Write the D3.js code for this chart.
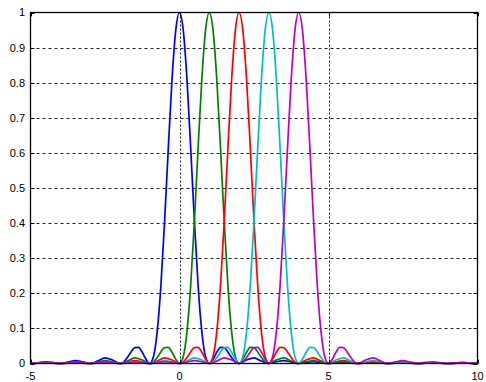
<!DOCTYPE html>
<html>
<head>
<meta charset="utf-8">
<script src="https://cdn.jsdelivr.net/npm/d3@7"></script>
<style>
  body { margin: 0; background: #fff; }
  svg { display: block; }
  .tick-label { font-family: "Liberation Sans", Arial, sans-serif; font-size: 11px; fill: #000; }
</style>
</head>
<body>
<div id="chart"></div>
<script>
// peak positions of the five lobes, in draw order
const centers = [0, 1, 2, 3, 4]
const colors = ['#0000ff', '#008000', '#ff0000', '#00bfbf', '#bf00bf']

// half profile of one lobe (distance from peak -> height)
const offsets = [0, 0.125, 0.25, 0.375, 0.5, 0.625, 0.75, 0.875, 1,
  1.125, 1.25, 1.375, 1.5, 1.625, 1.75, 1.875, 2,
  2.25, 2.5, 2.75, 3, 3.25, 3.5, 3.75, 4, 4.25, 4.5, 4.75, 5,
  5.25, 5.5, 5.75, 6, 6.25, 6.5, 6.75, 7, 7.25, 7.5, 7.75, 8,
  8.25, 8.5, 8.75, 9, 9.25, 9.5, 9.75, 10]
const heights = [1, 0.95, 0.811, 0.615, 0.405, 0.221, 0.09, 0.019, 0,
  0.012, 0.032, 0.046, 0.045, 0.033, 0.017, 0.004, 0,
  0.01, 0.016, 0.007, 0, 0.005, 0.008, 0.004, 0, 0.003, 0.005, 0.002, 0,
  0.002, 0.003, 0.0015, 0, 0.0013, 0.0024, 0.0011, 0, 0.001, 0.0018, 0.0008, 0,
  0.0007, 0.0014, 0.0007, 0, 0.0006, 0.0011, 0.0005, 0]

const xTicks = [-5, 0, 5, 10]
const yTicks = [0, 0.1, 0.2, 0.3, 0.4, 0.5, 0.6, 0.7, 0.8, 0.9, 1]

const width = 486
const height = 382
const plotLeft = 30.5, plotRight = 477.5, plotTop = 12.5, plotBottom = 363.5
const TICK = 4

const svg = d3.select('#chart').append('svg').attr('width', width).attr('height', height)

const x = d3.scaleLinear().domain([-5, 10]).range([plotLeft, plotRight])
const y = d3.scaleLinear().domain([0, 1]).range([plotBottom, plotTop])

// grid
const grid = svg.append('g').attr('id', 'grid')
grid.selectAll('line.hgrid')
  .data(yTicks.filter(d => d > 0 && d < 1))
  .join('line')
  .attr('x1', plotLeft).attr('x2', plotRight)
  .attr('y1', d => Math.round(y(d)) + 0.5).attr('y2', d => Math.round(y(d)) + 0.5)
  .attr('stroke', '#222').attr('stroke-width', 1).attr('stroke-dasharray', '3,3')
grid.selectAll('line.vgrid')
  .data(xTicks.filter(d => d > -5 && d < 10))
  .join('line')
  .attr('x1', d => Math.round(x(d)) + 0.5).attr('x2', d => Math.round(x(d)) + 0.5)
  .attr('y1', plotTop).attr('y2', plotBottom)
  .attr('stroke', '#222').attr('stroke-width', 1).attr('stroke-dasharray', '2,2')

// curves
const line = d3.line().x(d => x(d[0])).y(d => y(d[1])).curve(d3.curveMonotoneX)

function lobePoints(c) {
  const pts = []
  offsets.forEach((o, i) => {
    pts.push([c - o, heights[i]])
    if (o > 0) pts.push([c + o, heights[i]])
  })
  return pts.filter(p => p[0] >= -5 && p[0] <= 10).sort((a, b) => a[0] - b[0])
}

svg.append('g').attr('id', 'content')
  .selectAll('path')
  .data(centers)
  .join('path')
  .attr('d', c => line(lobePoints(c)))
  .attr('fill', 'none')
  .attr('stroke', (_, i) => colors[i])
  .attr('stroke-width', 1.7)
  .attr('stroke-linejoin', 'round')

// box
svg.append('rect')
  .attr('x', plotLeft).attr('y', plotTop)
  .attr('width', plotRight - plotLeft).attr('height', plotBottom - plotTop)
  .attr('fill', 'none').attr('stroke', '#000').attr('stroke-width', 1.3)

// ticks (inward, all four sides)
const ticks = svg.append('g').attr('id', 'ticks').attr('stroke', '#000')
xTicks.forEach(t => {
  const px = Math.round(x(t)) + 0.5
  ticks.append('line').attr('x1', px).attr('x2', px).attr('y1', plotBottom).attr('y2', plotBottom - TICK)
  ticks.append('line').attr('x1', px).attr('x2', px).attr('y1', plotTop).attr('y2', plotTop + TICK)
})
yTicks.forEach(t => {
  const py = Math.round(y(t)) + 0.5
  ticks.append('line').attr('x1', plotLeft).attr('x2', plotLeft + TICK).attr('y1', py).attr('y2', py)
  ticks.append('line').attr('x1', plotRight).attr('x2', plotRight - TICK).attr('y1', py).attr('y2', py)
})

// tick labels
svg.append('g').selectAll('text')
  .data(xTicks)
  .join('text')
  .attr('class', 'tick-label')
  .attr('x', d => x(d))
  .attr('y', 380)
  .attr('text-anchor', 'middle')
  .text(d => d)

svg.append('g').selectAll('text')
  .data(yTicks)
  .join('text')
  .attr('class', 'tick-label')
  .attr('x', 25)
  .attr('y', d => y(d))
  .attr('dy', '0.36em')
  .attr('text-anchor', 'end')
  .text(d => d)
</script>
</body>
</html>
